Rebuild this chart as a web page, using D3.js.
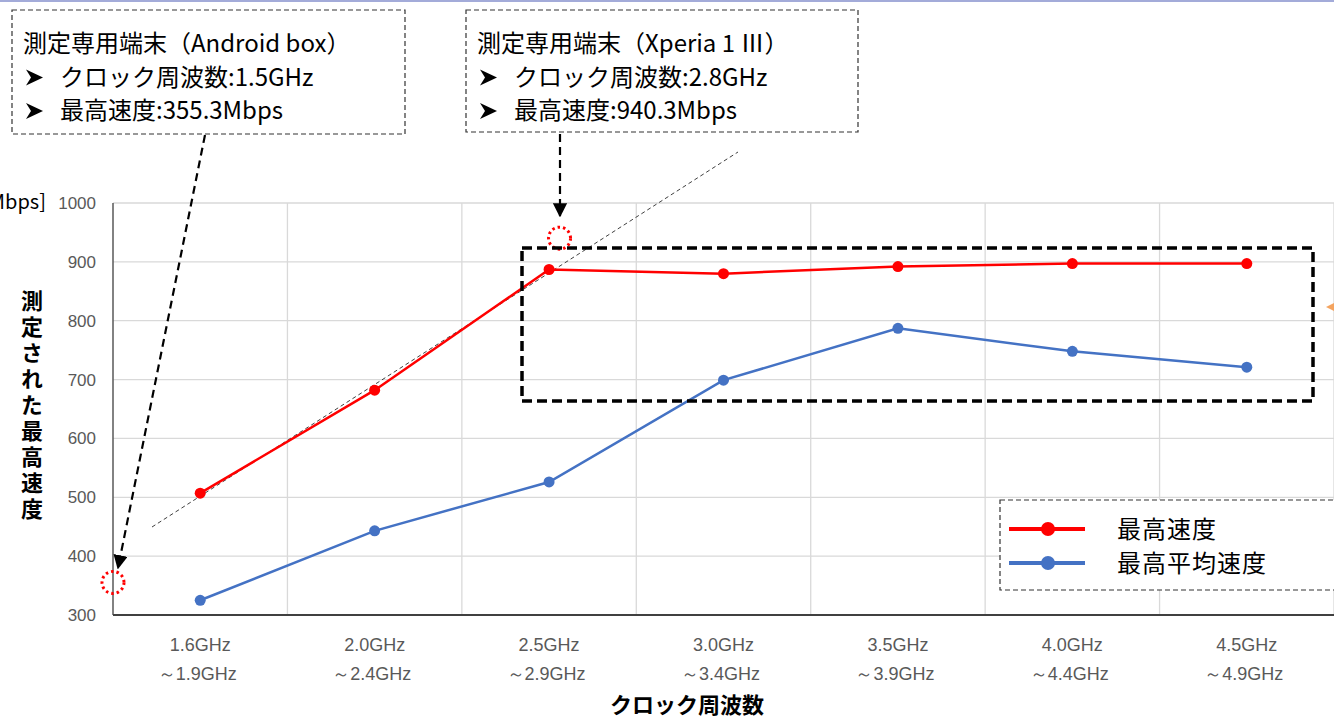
<!DOCTYPE html>
<html><head><meta charset="utf-8">
<script src="https://cdn.jsdelivr.net/npm/d3@7"></script>
<style>body{margin:0;background:#fff}svg{display:block}text{font-family:"Noto Sans CJK JP","Noto Sans",sans-serif}</style>
</head><body><svg id="c" width="1334" height="718"></svg>
<script>
const categories = ["1.6GHz\n～1.9GHz","2.0GHz\n～2.4GHz","2.5GHz\n～2.9GHz","3.0GHz\n～3.4GHz","3.5GHz\n～3.9GHz","4.0GHz\n～4.4GHz","4.5GHz\n～4.9GHz"];
const maxSpeed = [507, 682, 887, 880, 892, 897, 897];
const avgSpeed = [325, 443, 526, 699, 787, 748, 721];
const yTicks = [300,400,500,600,700,800,900,1000];
const seriesNames = ["最高速度","最高平均速度"];
const colors = ["#ff0000","#4472c4"];
const refPoints = [{label:"Android box", pos:-0.5, v:355.3},{label:"Xperia 1 III", pos:2.06, v:940.3}];
const boxTexts = [
  ["測定専用端末（Android box）","クロック周波数:1.5GHz","最高速度:355.3Mbps"],
  ["測定専用端末（Xperia 1 Ⅲ）","クロック周波数:2.8GHz","最高速度:940.3Mbps"]
];

const svg = d3.select("#c");
const L=113, R=1334, T=203, B=615;
const x = d3.scaleBand().domain(d3.range(categories.length)).range([L,R]);
const y = d3.scaleLinear().domain([300,1000]).range([B,T]);
const cx = i => x(i)+x.bandwidth()/2;
const px = p => L + (p+0.5)*x.bandwidth();
const sansLat = "Liberation Sans, Arial, sans-serif";

// top border line
svg.append("line").attr("x1",0).attr("x2",1334).attr("y1",1).attr("y2",1).attr("stroke","#a3abd9").attr("stroke-width",2);

// grid
svg.append("g").selectAll("line").data(yTicks).join("line")
 .attr("x1",L).attr("x2",R).attr("y1",d=>y(d)).attr("y2",d=>y(d)).attr("stroke","#d9d9d9").attr("stroke-width",1.3);
svg.append("g").selectAll("line").data(d3.range(1,categories.length+1)).join("line")
 .attr("x1",d=>L+d*x.bandwidth()).attr("x2",d=>L+d*x.bandwidth()).attr("y1",T).attr("y2",B).attr("stroke","#d9d9d9").attr("stroke-width",1.3);
// axes
svg.append("line").attr("x1",L).attr("x2",L).attr("y1",T).attr("y2",B).attr("stroke","#595959").attr("stroke-width",1.5);
svg.append("line").attr("x1",L).attr("x2",R).attr("y1",B).attr("y2",B).attr("stroke","#404040").attr("stroke-width",2);

// y tick labels
svg.append("g").selectAll("text").data(yTicks).join("text")
 .attr("x",96).attr("y",d=>y(d)+6).attr("text-anchor","end").attr("font-size",17).attr("fill","#595959")
 .style("font-family",sansLat).text(d=>d);
// x tick labels
const xl = svg.append("g").selectAll("text").data(categories).join("text")
 .attr("text-anchor","middle").attr("font-size",18).attr("fill","#595959").style("font-family",sansLat);
xl.each(function(d,i){
  const parts=d.split("\n");
  d3.select(this).append("tspan").attr("x",cx(i)).attr("y",651).text(parts[0]);
  d3.select(this).append("tspan").attr("x",cx(i)-3).attr("y",680).text(parts[1]);
});
// axis titles
svg.append("text").attr("x",687).attr("y",713).attr("text-anchor","middle").attr("font-size",22).attr("font-weight","bold").attr("fill","#000").text("クロック周波数");
svg.append("text").attr("x",32).attr("y",290).attr("font-size",22).attr("font-weight","bold")
 .style("writing-mode","vertical-rl").style("letter-spacing","4px").text("測定された最高速度");
svg.append("text").attr("x",46).attr("y",209).attr("text-anchor","end").attr("font-size",20).attr("fill","#000").text("[Mbps]");

// trend dashed line
svg.append("line").attr("x1",152).attr("y1",527).attr("x2",738).attr("y2",152).attr("stroke","#404040").attr("stroke-width",1).attr("stroke-dasharray","4,3");

// series
[maxSpeed,avgSpeed].forEach((s,k)=>{
  const line = d3.line().x((d,i)=>cx(i)).y(d=>y(d));
  svg.append("path").datum(s).attr("d",line).attr("fill","none").attr("stroke",colors[k]).attr("stroke-width",2.5);
  svg.append("g").selectAll("circle").data(s).join("circle").attr("cx",(d,i)=>cx(i)).attr("cy",d=>y(d)).attr("r",5.5).attr("fill",colors[k]);
});

// dotted reference circles
svg.append("g").selectAll("circle").data(refPoints).join("circle")
 .attr("cx",d=>px(d.pos)).attr("cy",d=>y(d.v)).attr("r",11).attr("fill","none").attr("stroke","#ff0000").attr("stroke-width",3).attr("stroke-dasharray","2.5,3");

// highlight dashed box
svg.append("rect").attr("x",522).attr("y",248).attr("width",791).attr("height",153).attr("fill","none").attr("stroke","#000").attr("stroke-width",3.5).attr("stroke-dasharray","10,5");

// annotation boxes
const boxes=[{x:12,y:10,w:393,h:124},{x:466,y:10,w:392,h:122}];
boxes.forEach((b,k)=>{
  svg.append("rect").attr("x",b.x).attr("y",b.y).attr("width",b.w).attr("height",b.h).attr("fill","#fff").attr("stroke","#333").attr("stroke-width",1.2).attr("stroke-dasharray","5,3");
  const t=boxTexts[k];
  svg.append("text").attr("x",b.x+11).attr("y",b.y+42).attr("font-size",24).text(t[0]);
  [1,2].forEach(j=>{
    const yy=b.y+42+j*33.5;
    svg.append("path").attr("d",`M${b.x+14},${yy-16} L${b.x+31},${yy-8} L${b.x+14},${yy} L${b.x+19},${yy-8} Z`).attr("fill","#000");
    svg.append("text").attr("x",b.x+48).attr("y",yy).attr("font-size",24).text(t[j]);
  });
});

// arrows
svg.append("defs").append("marker").attr("id","ah").attr("viewBox","0 0 10 10").attr("refX",9).attr("refY",5)
 .attr("markerWidth",6.5).attr("markerHeight",6.5).attr("orient","auto").append("path").attr("d","M0,0 L10,5 L0,10 Z").attr("fill","#000");
svg.append("line").attr("x1",205).attr("y1",135).attr("x2",118).attr("y2",568).attr("stroke","#000").attr("stroke-width",2.2).attr("stroke-dasharray","8,5").attr("marker-end","url(#ah)");
svg.append("line").attr("x1",560).attr("y1",134).attr("x2",560).attr("y2",216).attr("stroke","#000").attr("stroke-width",2.2).attr("stroke-dasharray","8,5").attr("marker-end","url(#ah)");

// legend
svg.append("rect").attr("x",1000).attr("y",500).attr("width",340).attr("height",90).attr("fill","#fff").attr("stroke","#333").attr("stroke-width",1.2).attr("stroke-dasharray","5,3");
seriesNames.forEach((n,k)=>{
  const yy=529+k*34;
  svg.append("line").attr("x1",1009).attr("x2",1085).attr("y1",yy).attr("y2",yy).attr("stroke",colors[k]).attr("stroke-width",4);
  svg.append("circle").attr("cx",1048).attr("cy",yy).attr("r",7).attr("fill",colors[k]);
  svg.append("text").attr("x",1117).attr("y",yy+9).attr("font-size",24).style("letter-spacing","1px").text(n);
});

// orange arrow partially off-edge
svg.append("path").attr("d","M1326,307 L1336,302 L1336,312 Z").attr("fill","#f4a460");
</script></body></html>
